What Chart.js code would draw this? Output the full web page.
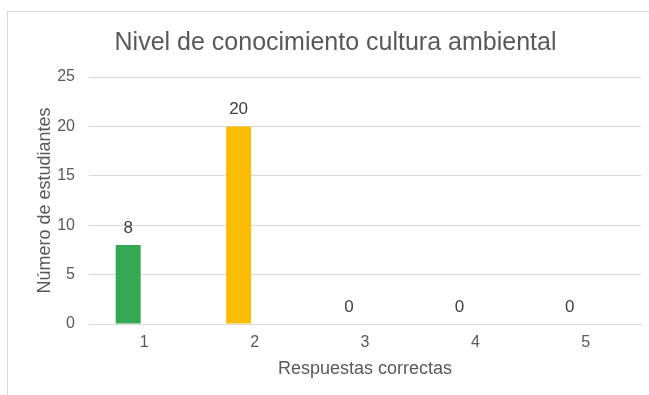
<!DOCTYPE html>
<html>
<head>
<meta charset="utf-8">
<script src="https://cdn.jsdelivr.net/npm/chart.js@4"></script>
<style>
  html, body { margin: 0; padding: 0; background: #fff; overflow: hidden; }
  #wrap {
    position: absolute; left: 7px; top: 11px;
    width: 652px; height: 398px;
    border: 1px solid #d9d9d9; background: #fff;
  }
</style>
</head>
<body>
<div id="wrap"><canvas id="myChart"></canvas></div>
<script>
// chart data
const categories = ['1', '2', '3', '4', '5'];
const students = [8, 20, 0, 0, 0];
const emptySeries = [null, null, null, null, null];
const barColors = ['#34a853', '#fbbc04', '#4285f4', '#ea4335', '#ff6d01'];
const yTicks = [0, 5, 10, 15, 20, 25];

const textGray = '#595959';
const font = 'Liberation Sans, Arial, sans-serif';

// draws the value above each bar of the first series
const valueLabels = {
    id: 'valueLabels',
    afterDatasetsDraw(chart) {
        const ctx = chart.ctx;
        const meta = chart.getDatasetMeta(0);
        ctx.save();
        ctx.fillStyle = '#404040';
        ctx.font = '17px ' + font;
        ctx.textAlign = 'center';
        ctx.textBaseline = 'alphabetic';
        meta.data.forEach((bar, i) => {
            ctx.fillText(String(students[i]), bar.x, bar.y - 12);
        });
        ctx.restore();
    }
};

const config = {
    type: 'bar',
    data: {
        labels: categories,
        datasets: [{
            label: 'Número de estudiantes',
            data: students,
            backgroundColor: barColors,
            categoryPercentage: 0.58,
            barPercentage: 0.78
        }, {
            label: 'Serie 2',
            data: emptySeries,
            backgroundColor: '#4285f4',
            categoryPercentage: 0.58,
            barPercentage: 0.78
        }]
    },
    options: {
        responsive: true,
        maintainAspectRatio: false,
        animation: false,
        layout: {
            padding: { left: 22, right: 19, top: 0, bottom: 26 }
        },
        scales: {
            y: {
                min: 0,
                max: 25,
                afterBuildTicks: function (scale) {
                    scale.ticks = yTicks.map(v => ({ value: v }));
                },
                afterFit: function (scale) {
                    scale.width = 59;
                },
                border: { display: false },
                grid: {
                    color: '#d9d9d9',
                    drawTicks: false
                },
                ticks: {
                    color: textGray,
                    padding: 14,
                    font: { family: font, size: 16 }
                },
                title: {
                    display: true,
                    text: 'Número de estudiantes',
                    color: textGray,
                    padding: { top: 4, bottom: 4 },
                    font: { family: font, size: 18 }
                }
            },
            x: {
                afterFit: function (scale) {
                    scale.height = 60;
                },
                border: { display: true, color: '#d9d9d9' },
                grid: {
                    display: false,
                    drawTicks: false
                },
                ticks: {
                    color: textGray,
                    padding: 9,
                    font: { family: font, size: 16 }
                },
                title: {
                    display: true,
                    text: 'Respuestas correctas',
                    color: textGray,
                    padding: { top: 0, bottom: 4 },
                    font: { family: font, size: 18 }
                }
            }
        },
        plugins: {
            legend: { display: false },
            tooltip: { enabled: false },
            title: {
                display: true,
                text: 'Nivel de conocimiento cultura ambiental',
                color: textGray,
                padding: { top: 16, bottom: 19 },
                font: { family: font, size: 25, weight: 'normal' }
            }
        }
    },
    plugins: [valueLabels]
};

const ctx = document.getElementById('myChart').getContext('2d');
new Chart(ctx, config);
</script>
</body>
</html>
